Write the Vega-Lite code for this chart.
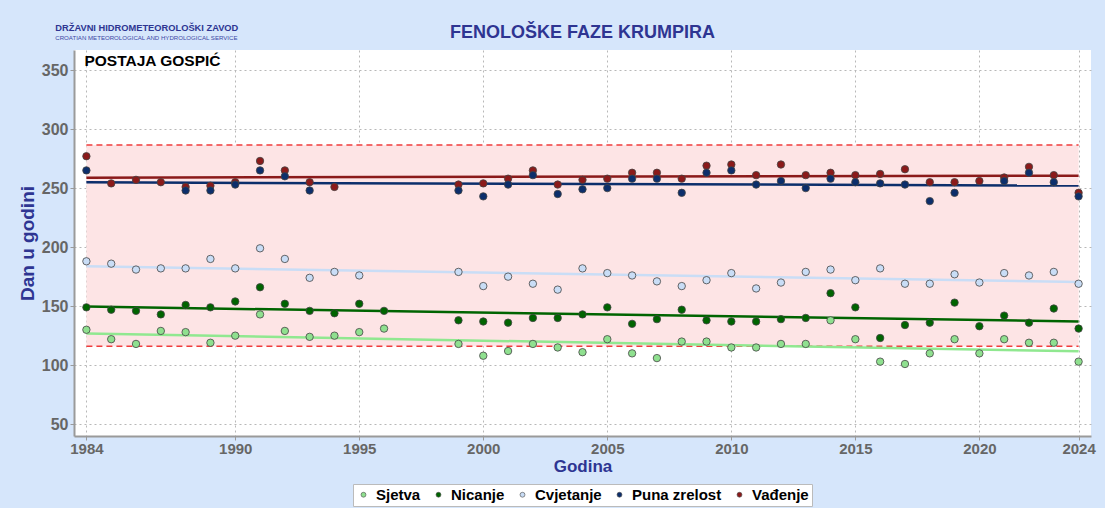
{
  "$schema": "https://vega.github.io/schema/vega-lite/v6.json",
  "background": "#d6e6fb",
  "padding": {"left": 18, "top": 23, "right": 10, "bottom": 1},
  "title": {
    "text": "DRŽAVNI HIDROMETEOROLOŠKI ZAVOD",
    "subtitle": "CROATIAN METEOROLOGICAL AND HYDROLOGICAL SERVICE",
    "anchor": "start",
    "frame": "bounds",
    "offset": -17,
    "dx": 37,
    "font": "Liberation Sans",
    "fontSize": 9.3,
    "fontWeight": "bold",
    "color": "#2e3592",
    "subtitleFont": "Liberation Sans",
    "subtitleFontSize": 6.1,
    "subtitleColor": "#3d47a5",
    "subtitlePadding": 2
  },
  "datasets": {
    "faze": [
      {"year": 1984, "faza": "Sjetva", "dan": 130}, {"year": 1985, "faza": "Sjetva", "dan": 122}, {"year": 1986, "faza": "Sjetva", "dan": 118}, {"year": 1987, "faza": "Sjetva", "dan": 129}, {"year": 1988, "faza": "Sjetva", "dan": 128}, {"year": 1989, "faza": "Sjetva", "dan": 119}, {"year": 1990, "faza": "Sjetva", "dan": 125}, {"year": 1991, "faza": "Sjetva", "dan": 143}, {"year": 1992, "faza": "Sjetva", "dan": 129}, {"year": 1993, "faza": "Sjetva", "dan": 124}, {"year": 1994, "faza": "Sjetva", "dan": 125}, {"year": 1995, "faza": "Sjetva", "dan": 128}, {"year": 1996, "faza": "Sjetva", "dan": 131}, {"year": 1999, "faza": "Sjetva", "dan": 118}, {"year": 2000, "faza": "Sjetva", "dan": 108}, {"year": 2001, "faza": "Sjetva", "dan": 112}, {"year": 2002, "faza": "Sjetva", "dan": 118}, {"year": 2003, "faza": "Sjetva", "dan": 115}, {"year": 2004, "faza": "Sjetva", "dan": 111}, {"year": 2005, "faza": "Sjetva", "dan": 122}, {"year": 2006, "faza": "Sjetva", "dan": 110}, {"year": 2007, "faza": "Sjetva", "dan": 106}, {"year": 2008, "faza": "Sjetva", "dan": 120}, {"year": 2009, "faza": "Sjetva", "dan": 120}, {"year": 2010, "faza": "Sjetva", "dan": 115}, {"year": 2011, "faza": "Sjetva", "dan": 115}, {"year": 2012, "faza": "Sjetva", "dan": 118}, {"year": 2013, "faza": "Sjetva", "dan": 118}, {"year": 2014, "faza": "Sjetva", "dan": 138}, {"year": 2015, "faza": "Sjetva", "dan": 122}, {"year": 2016, "faza": "Sjetva", "dan": 103}, {"year": 2017, "faza": "Sjetva", "dan": 101}, {"year": 2018, "faza": "Sjetva", "dan": 110}, {"year": 2019, "faza": "Sjetva", "dan": 122}, {"year": 2020, "faza": "Sjetva", "dan": 110}, {"year": 2021, "faza": "Sjetva", "dan": 122}, {"year": 2022, "faza": "Sjetva", "dan": 119}, {"year": 2023, "faza": "Sjetva", "dan": 119}, {"year": 2024, "faza": "Sjetva", "dan": 103},
      {"year": 1984, "faza": "Nicanje", "dan": 149}, {"year": 1985, "faza": "Nicanje", "dan": 147}, {"year": 1986, "faza": "Nicanje", "dan": 146}, {"year": 1987, "faza": "Nicanje", "dan": 143}, {"year": 1988, "faza": "Nicanje", "dan": 151}, {"year": 1989, "faza": "Nicanje", "dan": 149}, {"year": 1990, "faza": "Nicanje", "dan": 154}, {"year": 1991, "faza": "Nicanje", "dan": 166}, {"year": 1992, "faza": "Nicanje", "dan": 152}, {"year": 1993, "faza": "Nicanje", "dan": 146}, {"year": 1994, "faza": "Nicanje", "dan": 144}, {"year": 1995, "faza": "Nicanje", "dan": 152}, {"year": 1996, "faza": "Nicanje", "dan": 146}, {"year": 1999, "faza": "Nicanje", "dan": 138}, {"year": 2000, "faza": "Nicanje", "dan": 137}, {"year": 2001, "faza": "Nicanje", "dan": 136}, {"year": 2002, "faza": "Nicanje", "dan": 140}, {"year": 2003, "faza": "Nicanje", "dan": 140}, {"year": 2004, "faza": "Nicanje", "dan": 143}, {"year": 2005, "faza": "Nicanje", "dan": 149}, {"year": 2006, "faza": "Nicanje", "dan": 135}, {"year": 2007, "faza": "Nicanje", "dan": 139}, {"year": 2008, "faza": "Nicanje", "dan": 147}, {"year": 2009, "faza": "Nicanje", "dan": 138}, {"year": 2010, "faza": "Nicanje", "dan": 137}, {"year": 2011, "faza": "Nicanje", "dan": 137}, {"year": 2012, "faza": "Nicanje", "dan": 139}, {"year": 2013, "faza": "Nicanje", "dan": 140}, {"year": 2014, "faza": "Nicanje", "dan": 161}, {"year": 2015, "faza": "Nicanje", "dan": 149}, {"year": 2016, "faza": "Nicanje", "dan": 123}, {"year": 2017, "faza": "Nicanje", "dan": 134}, {"year": 2018, "faza": "Nicanje", "dan": 136}, {"year": 2019, "faza": "Nicanje", "dan": 153}, {"year": 2020, "faza": "Nicanje", "dan": 133}, {"year": 2021, "faza": "Nicanje", "dan": 142}, {"year": 2022, "faza": "Nicanje", "dan": 136}, {"year": 2023, "faza": "Nicanje", "dan": 148}, {"year": 2024, "faza": "Nicanje", "dan": 131},
      {"year": 1984, "faza": "Cvjetanje", "dan": 188}, {"year": 1985, "faza": "Cvjetanje", "dan": 186}, {"year": 1986, "faza": "Cvjetanje", "dan": 181}, {"year": 1987, "faza": "Cvjetanje", "dan": 182}, {"year": 1988, "faza": "Cvjetanje", "dan": 182}, {"year": 1989, "faza": "Cvjetanje", "dan": 190}, {"year": 1990, "faza": "Cvjetanje", "dan": 182}, {"year": 1991, "faza": "Cvjetanje", "dan": 199}, {"year": 1992, "faza": "Cvjetanje", "dan": 190}, {"year": 1993, "faza": "Cvjetanje", "dan": 174}, {"year": 1994, "faza": "Cvjetanje", "dan": 179}, {"year": 1995, "faza": "Cvjetanje", "dan": 176}, {"year": 1999, "faza": "Cvjetanje", "dan": 179}, {"year": 2000, "faza": "Cvjetanje", "dan": 167}, {"year": 2001, "faza": "Cvjetanje", "dan": 175}, {"year": 2002, "faza": "Cvjetanje", "dan": 169}, {"year": 2003, "faza": "Cvjetanje", "dan": 164}, {"year": 2004, "faza": "Cvjetanje", "dan": 182}, {"year": 2005, "faza": "Cvjetanje", "dan": 178}, {"year": 2006, "faza": "Cvjetanje", "dan": 176}, {"year": 2007, "faza": "Cvjetanje", "dan": 171}, {"year": 2008, "faza": "Cvjetanje", "dan": 167}, {"year": 2009, "faza": "Cvjetanje", "dan": 172}, {"year": 2010, "faza": "Cvjetanje", "dan": 178}, {"year": 2011, "faza": "Cvjetanje", "dan": 165}, {"year": 2012, "faza": "Cvjetanje", "dan": 170}, {"year": 2013, "faza": "Cvjetanje", "dan": 179}, {"year": 2014, "faza": "Cvjetanje", "dan": 181}, {"year": 2015, "faza": "Cvjetanje", "dan": 172}, {"year": 2016, "faza": "Cvjetanje", "dan": 182}, {"year": 2017, "faza": "Cvjetanje", "dan": 169}, {"year": 2018, "faza": "Cvjetanje", "dan": 169}, {"year": 2019, "faza": "Cvjetanje", "dan": 177}, {"year": 2020, "faza": "Cvjetanje", "dan": 170}, {"year": 2021, "faza": "Cvjetanje", "dan": 178}, {"year": 2022, "faza": "Cvjetanje", "dan": 176}, {"year": 2023, "faza": "Cvjetanje", "dan": 179}, {"year": 2024, "faza": "Cvjetanje", "dan": 169},
      {"year": 1984, "faza": "Vađenje", "dan": 277}, {"year": 1985, "faza": "Vađenje", "dan": 254}, {"year": 1986, "faza": "Vađenje", "dan": 257}, {"year": 1987, "faza": "Vađenje", "dan": 255}, {"year": 1988, "faza": "Vađenje", "dan": 251}, {"year": 1989, "faza": "Vađenje", "dan": 252}, {"year": 1990, "faza": "Vađenje", "dan": 255}, {"year": 1991, "faza": "Vađenje", "dan": 273}, {"year": 1992, "faza": "Vađenje", "dan": 265}, {"year": 1993, "faza": "Vađenje", "dan": 255}, {"year": 1994, "faza": "Vađenje", "dan": 251}, {"year": 1999, "faza": "Vađenje", "dan": 253}, {"year": 2000, "faza": "Vađenje", "dan": 254}, {"year": 2001, "faza": "Vađenje", "dan": 258}, {"year": 2002, "faza": "Vađenje", "dan": 265}, {"year": 2003, "faza": "Vađenje", "dan": 253}, {"year": 2004, "faza": "Vađenje", "dan": 257}, {"year": 2005, "faza": "Vađenje", "dan": 258}, {"year": 2006, "faza": "Vađenje", "dan": 263}, {"year": 2007, "faza": "Vađenje", "dan": 263}, {"year": 2008, "faza": "Vađenje", "dan": 258}, {"year": 2009, "faza": "Vađenje", "dan": 269}, {"year": 2010, "faza": "Vađenje", "dan": 270}, {"year": 2011, "faza": "Vađenje", "dan": 261}, {"year": 2012, "faza": "Vađenje", "dan": 270}, {"year": 2013, "faza": "Vađenje", "dan": 261}, {"year": 2014, "faza": "Vađenje", "dan": 263}, {"year": 2015, "faza": "Vađenje", "dan": 261}, {"year": 2016, "faza": "Vađenje", "dan": 262}, {"year": 2017, "faza": "Vađenje", "dan": 266}, {"year": 2018, "faza": "Vađenje", "dan": 255}, {"year": 2019, "faza": "Vađenje", "dan": 255}, {"year": 2020, "faza": "Vađenje", "dan": 256}, {"year": 2021, "faza": "Vađenje", "dan": 259}, {"year": 2022, "faza": "Vađenje", "dan": 268}, {"year": 2023, "faza": "Vađenje", "dan": 261}, {"year": 2024, "faza": "Vađenje", "dan": 246},
      {"year": 1984, "faza": "Puna zrelost", "dan": 265}, {"year": 1988, "faza": "Puna zrelost", "dan": 248}, {"year": 1989, "faza": "Puna zrelost", "dan": 248}, {"year": 1990, "faza": "Puna zrelost", "dan": 253}, {"year": 1991, "faza": "Puna zrelost", "dan": 265}, {"year": 1992, "faza": "Puna zrelost", "dan": 260}, {"year": 1993, "faza": "Puna zrelost", "dan": 248}, {"year": 1999, "faza": "Puna zrelost", "dan": 248}, {"year": 2000, "faza": "Puna zrelost", "dan": 243}, {"year": 2001, "faza": "Puna zrelost", "dan": 253}, {"year": 2002, "faza": "Puna zrelost", "dan": 261}, {"year": 2003, "faza": "Puna zrelost", "dan": 245}, {"year": 2004, "faza": "Puna zrelost", "dan": 249}, {"year": 2005, "faza": "Puna zrelost", "dan": 250}, {"year": 2006, "faza": "Puna zrelost", "dan": 258}, {"year": 2007, "faza": "Puna zrelost", "dan": 258}, {"year": 2008, "faza": "Puna zrelost", "dan": 246}, {"year": 2009, "faza": "Puna zrelost", "dan": 263}, {"year": 2010, "faza": "Puna zrelost", "dan": 265}, {"year": 2011, "faza": "Puna zrelost", "dan": 253}, {"year": 2012, "faza": "Puna zrelost", "dan": 256}, {"year": 2013, "faza": "Puna zrelost", "dan": 250}, {"year": 2014, "faza": "Puna zrelost", "dan": 258}, {"year": 2015, "faza": "Puna zrelost", "dan": 255}, {"year": 2016, "faza": "Puna zrelost", "dan": 254}, {"year": 2017, "faza": "Puna zrelost", "dan": 253}, {"year": 2018, "faza": "Puna zrelost", "dan": 239}, {"year": 2019, "faza": "Puna zrelost", "dan": 246}, {"year": 2021, "faza": "Puna zrelost", "dan": 256}, {"year": 2022, "faza": "Puna zrelost", "dan": 263}, {"year": 2023, "faza": "Puna zrelost", "dan": 255}, {"year": 2024, "faza": "Puna zrelost", "dan": 243}
    ],
    "granice": [{"od": 1984, "do": 2024, "donja": 116, "gornja": 286.5, "oznaka": "POSTAJA GOSPIĆ", "ox": 1984, "oy": 358}]
  },
  "config": {
    "font": "Liberation Sans",
    "view": {"fill": "white", "stroke": null},
    "legend": {"layout": {"bottom": {"anchor": "middle"}}},
    "axis": {
      "domainColor": "#9a9a9a",
      "domainWidth": 2,
      "tickColor": "#9a9a9a",
      "tickSize": 4,
      "grid": true,
      "gridColor": "#b8b8b8",
      "gridDash": [2, 3],
      "gridWidth": 1,
      "labelColor": "#666666",
      "labelFontWeight": "bold",
      "titleColor": "#2e3592",
      "titleFontWeight": "bold"
    }
  },
  "vconcat": [
    {
      "width": 1017,
      "height": 386,
      "title": {
        "text": "FENOLOŠKE FAZE KRUMPIRA",
        "anchor": "middle",
        "frame": "group",
        "offset": 8,
        "font": "Liberation Sans",
        "fontSize": 18,
        "fontWeight": "bold",
        "color": "#2e3592"
      },
      "encoding": {
        "x": {
          "type": "quantitative", "title": "Godina",
          "scale": {"domain": [1983.5, 2024.5], "nice": false, "zero": false},
          "axis": {
            "values": [1984, 1990, 1995, 2000, 2005, 2010, 2015, 2020, 2024],
            "format": "d",
            "grid": true,
            "labelFontSize": 15,
            "titleFontSize": 17,
            "titlePadding": 2,
            "labelPadding": 1
          }
        },
        "y": {
          "type": "quantitative", "title": "Dan u godini",
          "scale": {"domain": [40, 367], "nice": false, "zero": false},
          "axis": {
            "values": [50, 100, 150, 200, 250, 300, 350],
            "grid": true,
            "labelFontSize": 16,
            "titleFontSize": 19,
            "titlePadding": 4,
            "labelPadding": 2
          }
        }
      },
      "layer": [
        {
          "data": {"name": "granice"},
          "mark": {"type": "rect", "color": "#fde4e5"},
          "encoding": {
            "x": {"field": "od"},
            "x2": {"field": "do"},
            "y": {"field": "donja"},
            "y2": {"field": "gornja"}
          }
        },
        {
          "data": {"name": "granice"},
          "mark": {"type": "rule", "color": "#f03c3c", "strokeWidth": 1.5, "strokeDash": [6, 4]},
          "encoding": {
            "x": {"field": "od"},
            "x2": {"field": "do"},
            "y": {"field": "gornja"}
          }
        },
        {
          "data": {"name": "granice"},
          "mark": {"type": "rule", "color": "#f03c3c", "strokeWidth": 1.5, "strokeDash": [6, 4]},
          "encoding": {
            "x": {"field": "od"},
            "x2": {"field": "do"},
            "y": {"field": "donja"}
          }
        },
        {
          "data": {"name": "faze"},
          "transform": [{"regression": "dan", "on": "year", "groupby": ["faza"], "method": "linear"}],
          "mark": {"type": "line", "strokeWidth": 2.5},
          "encoding": {
            "x": {"field": "year"},
            "y": {"field": "dan"},
            "stroke": {
              "field": "faza", "type": "nominal", "legend": null,
              "scale": {
                "domain": ["Vađenje", "Puna zrelost", "Cvjetanje", "Nicanje", "Sjetva"],
                "range": ["#8b1a1a", "#0c2e6b", "#c9ddf6", "#006400", "#90e890"]
              }
            }
          }
        },
        {
          "data": {"name": "faze"},
          "mark": {"type": "point", "shape": "circle", "filled": true, "size": 55, "opacity": 1, "stroke": "#444444", "strokeWidth": 0.8},
          "encoding": {
            "x": {"field": "year"},
            "y": {"field": "dan"},
            "color": {
              "field": "faza", "type": "nominal",
              "scale": {
                "domain": ["Sjetva", "Nicanje", "Cvjetanje", "Puna zrelost", "Vađenje"],
                "range": ["#8fe08f", "#006400", "#c9ddf6", "#0c2e6b", "#8b1a1a"]
              },
              "legend": {
                "orient": "bottom",
                "direction": "horizontal",
                "title": null,
                "labelFontSize": 15,
                "labelFontWeight": "bold",
                "labelColor": "#000000",
                "symbolSize": 24,
                "symbolStrokeWidth": 0.6,
                "fillColor": "white",
                "strokeColor": "#bbbbbb",
                "padding": 3,
                "columnPadding": 10,
                "labelOffset": 5,
                "offset": 10
              }
            }
          }
        },
        {
          "data": {"name": "granice"},
          "mark": {"type": "text", "align": "left", "baseline": "middle", "dx": -2, "fontSize": 15.5, "fontWeight": "bold", "color": "#000000"},
          "encoding": {
            "x": {"field": "ox"},
            "y": {"field": "oy"},
            "text": {"field": "oznaka"}
          }
        }
      ]
    }
  ]
}
